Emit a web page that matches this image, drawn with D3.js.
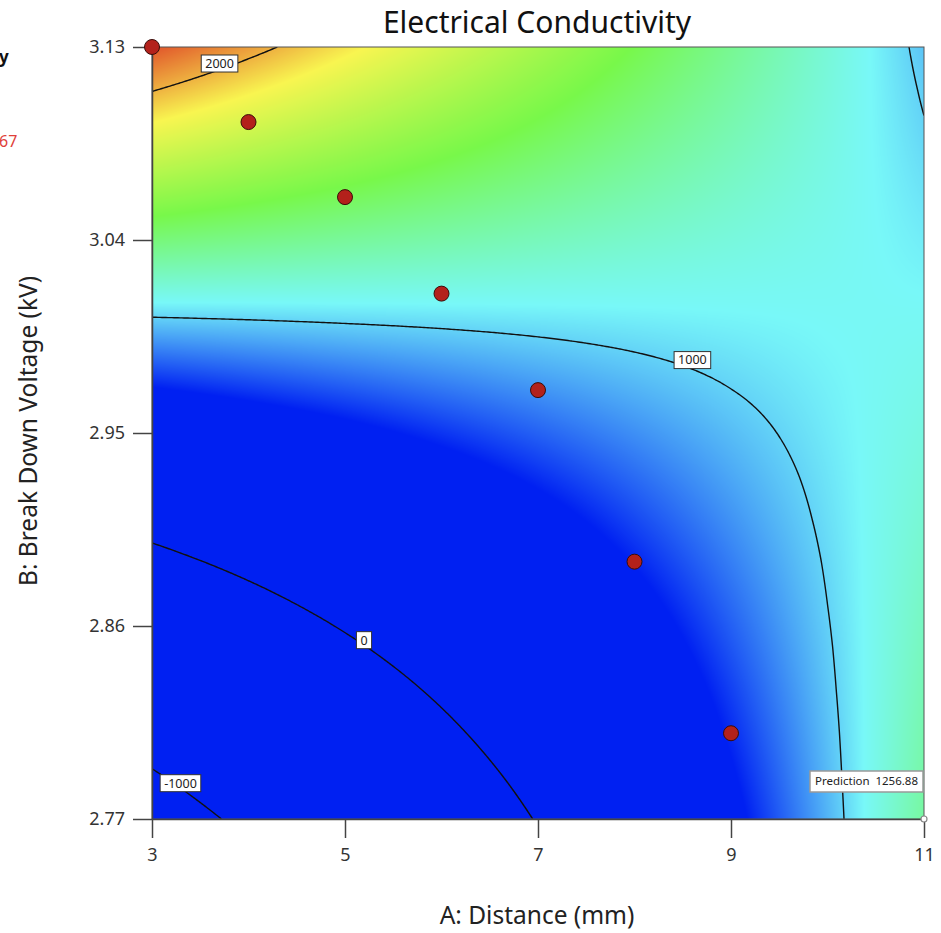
<!DOCTYPE html>
<html>
<head>
<meta charset="utf-8">
<script src="https://cdn.jsdelivr.net/npm/d3@7"></script>
<style>
  html, body { margin: 0; padding: 0; background: #fff; }
  svg { display: block; font-family: "Noto Sans", "Open Sans", sans-serif; }
</style>
</head>
<body>
<svg id="chart" width="941" height="933"></svg>
<script>
// grid of the fitted response (rows = voltage, cols = distance)
const distance = [3, 4, 5, 6, 7, 8, 9, 10, 11];
const voltage = [2.77, 2.79, 2.81, 2.83, 2.85, 2.87, 2.89, 2.91, 2.93, 2.95,
                 2.97, 2.99, 3.01, 3.03, 3.05, 3.07, 3.09, 3.11, 3.13];
const conductivity = [
  [-1223, -913, -603, -293,   17,  327,  637,  947, 1257],
  [-1033, -749, -464, -180,  104,  389,  673,  958, 1241],
  [ -843, -584, -326,  -67,  192,  451,  709,  968, 1226],
  [ -653, -420, -187,   46,  279,  512,  745,  979, 1210],
  [ -463, -256,  -48,  159,  367,  574,  782,  989, 1194],
  [ -273,  -91,   91,  272,  454,  636,  818, 1000, 1179],
  [  -83,   73,  229,  385,  542,  698,  854, 1010, 1163],
  [  107,  238,  368,  499,  629,  760,  890, 1021, 1147],
  [  297,  402,  507,  612,  717,  821,  926, 1031, 1132],
  [  487,  566,  645,  725,  804,  883,  962, 1042, 1116],
  [  677,  731,  784,  838,  891,  945,  999, 1052, 1100],
  [  867,  895,  923,  951,  979, 1007, 1035, 1063, 1085],
  [ 1057, 1059, 1062, 1064, 1066, 1069, 1071, 1073, 1069],
  [ 1247, 1224, 1200, 1177, 1154, 1130, 1107, 1084, 1053],
  [ 1437, 1388, 1339, 1290, 1241, 1192, 1143, 1094, 1038],
  [ 1627, 1552, 1478, 1403, 1329, 1254, 1179, 1105, 1022],
  [ 1817, 1717, 1617, 1516, 1416, 1316, 1216, 1115, 1006],
  [ 2007, 1881, 1755, 1629, 1503, 1378, 1252, 1126,  991],
  [ 2197, 2045, 1894, 1742, 1591, 1439, 1288, 1136,  975]
];

// design points
const designDistance = [3, 4, 5, 6, 7, 8, 9];
const designVoltage = [3.13, 3.095, 3.06, 3.015, 2.97, 2.89, 2.81];

const contourLevels = [-1000, 0, 1000, 2000];
// centre of each contour label box (data units)
const labelAt = { "-1000": [3.295, 2.7867], "0": [5.197, 2.8534], "1000": [8.6, 2.9840], "2000": [3.7, 3.1223] };

const colorStops = [690, 1065, 1445, 1860, 2270];
const colorRange = ["#0020f2", "#78f8f8", "#78f84a", "#f8f550", "#dc3022"];

const xTicks = [3, 5, 7, 9, 11];
const yTicks = [2.77, 2.86, 2.95, 3.04, 3.13];
const prediction = { distance: 11, voltage: 2.77, value: 1256.88 };

const svg = d3.select("#chart");
const plotL = 152, plotR = 924, plotT = 47, plotB = 819;
const W = plotR - plotL, H = plotB - plotT;

const x = d3.scaleLinear().domain([3, 11]).range([plotL, plotR]);
const y = d3.scaleLinear().domain([2.77, 3.13]).range([plotB, plotT]);
const color = d3.scaleLinear().domain(colorStops).range(colorRange).clamp(true);

const nx = distance.length, ny = voltage.length;
const dA = distance[1] - distance[0], dB = voltage[1] - voltage[0];

// value of the gridded surface at (a, b), between grid nodes
function surface(a, b) {
  const fi = (a - distance[0]) / dA, fj = (b - voltage[0]) / dB;
  const i = Math.max(0, Math.min(nx - 2, Math.floor(fi)));
  const j = Math.max(0, Math.min(ny - 2, Math.floor(fj)));
  const u = fi - i, v = fj - j, g = conductivity;
  return (1 - u) * (1 - v) * g[j][i] + u * (1 - v) * g[j][i + 1] +
         (1 - u) * v * g[j + 1][i] + u * v * g[j + 1][i + 1];
}

svg.append("defs").append("clipPath").attr("id", "plotClip")
  .append("rect")
    .attr("x", plotL).attr("y", plotT)
    .attr("width", W).attr("height", H);

// heat map
const canvas = document.createElement("canvas");
canvas.width = W; canvas.height = H;
const ctx = canvas.getContext("2d");
const img = ctx.createImageData(W, H);
const lutMin = colorStops[0], lutMax = colorStops[colorStops.length - 1];
const lut = d3.range(lutMin, lutMax + 1).map(v => d3.rgb(color(v)));
for (let py = 0; py < H; py++) {
  const b = y.invert(plotT + py + 0.5);
  for (let px = 0; px < W; px++) {
    const v = surface(x.invert(plotL + px + 0.5), b);
    const c = lut[Math.max(0, Math.min(lut.length - 1, Math.round(v - lutMin)))];
    const k = (py * W + px) * 4;
    img.data[k] = c.r; img.data[k + 1] = c.g; img.data[k + 2] = c.b; img.data[k + 3] = 255;
  }
}
ctx.putImageData(img, 0, 0);

const plot = svg.append("g").attr("clip-path", "url(#plotClip)");
plot.append("image")
  .attr("href", canvas.toDataURL())
  .attr("x", plotL).attr("y", plotT)
  .attr("width", W).attr("height", H);

// contour lines, traced on a 2px sampling of the surface
const step = 2;
const cols = W / step + 1, rows = H / step + 1;
const field = new Float64Array(cols * rows);
for (let m = 0; m < rows; m++) {
  const b = y.invert(plotT + m * step);
  for (let k = 0; k < cols; k++) field[m * cols + k] = surface(x.invert(plotL + k * step), b);
}
const contours = d3.contours().size([cols, rows]).thresholds(contourLevels)(field);

// d3.contours puts sample k at coordinate k + 0.5
const inside = p => p[0] >= 0.5 - 1e-6 && p[0] <= cols - 0.5 + 1e-6 &&
                    p[1] >= 0.5 - 1e-6 && p[1] <= rows - 0.5 + 1e-6;

function contourLines(geom) {
  const lines = [];
  geom.coordinates.forEach(poly => poly.forEach(ring => {
    const pts = ring.slice(0, -1);
    const start = pts.findIndex(p => !inside(p));
    if (start < 0) { lines.push(ring); return; }
    let cur = [];
    for (let k = 1; k <= pts.length; k++) {
      const p = pts[(start + k) % pts.length];
      if (inside(p)) cur.push(p);
      else { if (cur.length > 1) lines.push(cur); cur = []; }
    }
  }));
  return lines.map(l => l.map(p => [plotL + (p[0] - 0.5) * step, plotT + (p[1] - 0.5) * step]));
}

const line = d3.line();
contours.forEach(c => {
  contourLines(c).forEach(l => {
    plot.append("path")
      .attr("d", line(l))
      .attr("fill", "none")
      .attr("stroke", "#111")
      .attr("stroke-width", 1.4);
  });
});

// frame
svg.append("rect")
  .attr("x", plotL).attr("y", plotT)
  .attr("width", W).attr("height", H)
  .attr("fill", "none")
  .attr("stroke", "#555")
  .attr("stroke-width", 1);

// contour labels
const labelG = svg.append("g");
contourLevels.forEach(level => {
  const at = labelAt[String(level)];
  const g = labelG.append("g").attr("transform", `translate(${x(at[0])},${y(at[1])})`);
  const t = g.append("text")
    .attr("text-anchor", "middle")
    .attr("dy", "0.35em")
    .style("font-size", "12.5px")
    .attr("fill", "#222")
    .text(level);
  const bb = t.node().getBBox();
  g.insert("rect", "text")
    .attr("x", bb.x - 4).attr("y", -8.5)
    .attr("width", bb.width + 8).attr("height", 17)
    .attr("fill", "#fff")
    .attr("stroke", "#333")
    .attr("stroke-width", 1);
});

// axes
const xAxis = svg.append("g")
  .attr("transform", `translate(0,${plotB})`)
  .call(d3.axisBottom(x).tickValues(xTicks).tickFormat(d3.format("d"))
    .tickSize(19).tickSizeOuter(0).tickPadding(10));
const yAxis = svg.append("g")
  .attr("transform", `translate(${plotL},0)`)
  .call(d3.axisLeft(y).tickValues(yTicks).tickFormat(d3.format(".2f"))
    .tickSize(19).tickSizeOuter(0).tickPadding(8));
[xAxis, yAxis].forEach(a => {
  a.attr("font-family", null);
  a.select(".domain").attr("stroke", "#444").attr("stroke-width", 1.5);
  a.selectAll(".tick line").attr("stroke", "#444").attr("stroke-width", 1.5);
  a.selectAll(".tick text").attr("fill", "#333").style("font-size", "18px");
});

// design points
svg.append("g").selectAll("circle")
  .data(designDistance.map((a, i) => [a, designVoltage[i]]))
  .join("circle")
    .attr("cx", d => x(d[0]))
    .attr("cy", d => y(d[1]))
    .attr("r", 7.5)
    .attr("fill", "#b3211b")
    .attr("stroke", "#3a0d0a")
    .attr("stroke-width", 1);

// prediction flag
const predX = x(prediction.distance), predY = y(prediction.voltage);
svg.append("circle")
  .attr("cx", predX).attr("cy", predY).attr("r", 3)
  .attr("fill", "#fff").attr("stroke", "#888").attr("stroke-width", 1.2);
const predG = svg.append("g");
const predText = predG.append("text")
  .attr("text-anchor", "end")
  .attr("x", predX - 6)
  .attr("y", predY - 38)
  .attr("dy", "0.35em")
  .style("font-size", "11.5px")
  .attr("fill", "#222")
  .text(`Prediction\u2002${prediction.value}`);
const pb = predText.node().getBBox();
predG.insert("rect", "text")
  .attr("x", pb.x - 5).attr("y", predY - 48)
  .attr("width", pb.width + 10).attr("height", 21)
  .attr("fill", "#fff")
  .attr("stroke", "#999")
  .attr("stroke-width", 1.5);

// titles
svg.append("text")
  .attr("x", (plotL + plotR) / 2 - 1).attr("y", 33)
  .attr("text-anchor", "middle")
  .style("font-size", "30px")
  .attr("fill", "#111")
  .text("Electrical Conductivity");
svg.append("text")
  .attr("x", (plotL + plotR) / 2 - 1).attr("y", 924)
  .attr("text-anchor", "middle")
  .style("font-size", "24.5px")
  .attr("fill", "#222")
  .text("A: Distance (mm)");
svg.append("text")
  .attr("transform", `translate(37,${(plotT + plotB) / 2 - 2}) rotate(-90)`)
  .attr("text-anchor", "middle")
  .style("font-size", "24.5px")
  .attr("fill", "#222")
  .text("B: Break Down Voltage (kV)");

// what is visible of the legend panel cut off on the left
svg.append("text")
  .attr("x", -1).attr("y", 63)
  .style("font-size", "17px")
  .style("font-weight", "bold")
  .attr("fill", "#111")
  .text("y");
svg.append("text")
  .attr("x", -1).attr("y", 147)
  .style("font-size", "16px")
  .attr("fill", "#e0403a")
  .text("67");
</script>
</body>
</html>
